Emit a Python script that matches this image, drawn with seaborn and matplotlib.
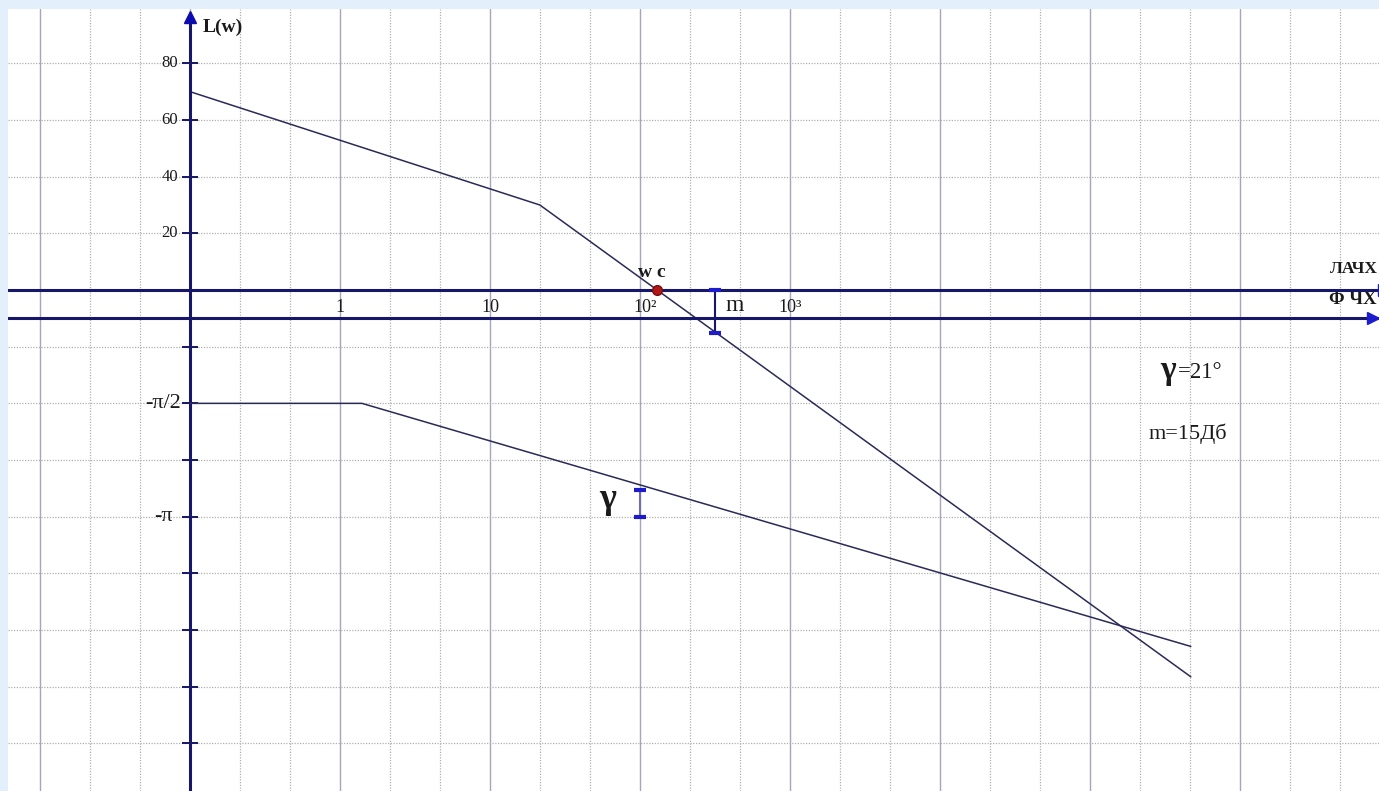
import numpy as np
import pandas as pd
import matplotlib
matplotlib.use("Agg")
import matplotlib.pyplot as plt
import seaborn as sns

# Asymptotic log-magnitude curve (ЛАЧХ): corner frequencies and levels, dB
omega_mag = [0.1, 21.5, 4.7e5]
mag_db = [70, 30, -136.5]

# Asymptotic phase curve (ФЧХ), degrees
omega_phase = [0.1, 1.4, 4.7e5]
phase_deg = [-90, -90, -283]

# Stability margins
gamma_deg = 21          # phase margin
margin_db = 15          # gain margin
omega_gamma = 100
omega_margin = 316

# Axis labelling
db_ticks = [80, 60, 40, 20]
phase_ticks = [-90, -180]
phase_tick_labels = ["-π/2", "-π"]
freq_ticks = [1, 10, 100, 1000]
freq_tick_labels = ["1", "10", "10²", "10³"]

sns.set_theme(style="white")
plt.rcParams["font.family"] = ["Liberation Serif", "DejaVu Serif"]

AXIS = "#16166a"
CURVE = "#2a2a58"
CAP = "#1c1ccc"

fig = plt.figure(figsize=(13.79, 7.91), dpi=100, facecolor="#e3f0fc")
ax = fig.add_axes([8 / 1379, 0, 1371 / 1379, 782 / 791])
ax.set_facecolor("white")
ax.set_xscale("log")
xmin, xmax = 10 ** (-2.2133), 10 ** 6.9267
ymin, ymax = -176.8, 99.17
ax.set_xlim(xmin, xmax)
ax.set_ylim(ymin, ymax)

# grid: decades solid, thirds of a decade dotted, 20 dB rows dotted
ax.set_xticks([10.0 ** k for k in range(-2, 7)])
ax.set_xticks([10.0 ** (k / 3) for k in range(-6, 21) if k % 3], minor=True)
ax.set_yticks(list(range(-160, 100, 20)))
ax.xaxis.grid(True, which="major", color="#a6a6ba", lw=1.0, ls="-")
ax.xaxis.grid(True, which="minor", color="#b0b0b0", lw=0.9, ls=(0, (1, 1.2)))
ax.yaxis.grid(True, which="major", color="#b0b0b0", lw=0.9, ls=(0, (1, 1.2)))
ax.tick_params(which="both", length=0, labelbottom=False, labelleft=False)
for s in ax.spines.values():
    s.set_visible(False)

# phase scale: -π/2 sits two grid rows below 0 dB
ax2 = ax.twinx()
ax2.set_ylim(ymin * 2.25, ymax * 2.25)
ax2.set_xlim(xmin, xmax)
ax2.set_yticks([])
ax2.tick_params(length=0, labelright=False)
for s in ax2.spines.values():
    s.set_visible(False)
ax2.patch.set_visible(False)

mag_df = pd.DataFrame({"omega": omega_mag, "L": mag_db})
phase_df = pd.DataFrame({"omega": omega_phase, "phi": phase_deg})
sns.lineplot(data=mag_df, x="omega", y="L", ax=ax, color=CURVE, lw=1.1,
             estimator=None, sort=False, zorder=3)
sns.lineplot(data=phase_df, x="omega", y="phi", ax=ax2, color=CURVE, lw=1.1,
             estimator=None, sort=False, zorder=3)
ax.set_xlabel("")
ax.set_ylabel("")
ax2.set_xlabel("")
ax2.set_ylabel("")

# coordinate axes
ax.axhline(0, color=AXIS, lw=2.2, zorder=4)
ax.axhline(-10, color=AXIS, lw=2.2, zorder=4)
ax.plot([0.1, 0.1], [ymin, 96], color=AXIS, lw=2.2, zorder=4, solid_capstyle="butt")
ax.plot([0.1], [96.3], marker="^", ms=9, color="#0c0cae", zorder=5)
ax.plot([10 ** 6.963], [0], marker=">", ms=9, color=CAP, zorder=5)
ax.plot([10 ** 6.89], [-10], marker=">", ms=9, color=CAP, zorder=5)

# tick marks on the vertical axis
tick_levels = [v for v in range(-160, 100, 20) if v != 0]
ax.plot([0.1] * len(tick_levels), tick_levels, ls="none", marker="_",
        ms=11, mew=1.4, color=AXIS, zorder=5)

txt = dict(color="#1a1a1a")
for v in db_ticks:
    ax.text(0.0832, v, str(v), ha="right", va="center", fontsize=12, **txt)
for v, lab in zip(phase_ticks, phase_tick_labels):
    ax2.text(0.0871 if v == -90 else 0.077, v, lab, ha="right", va="center",
             fontsize=16, **txt)
for w, lab in zip(freq_ticks, freq_tick_labels):
    ax.text(w * (1.08 if w == 100 else 1.0), -6, lab, ha="center", va="center",
            fontsize=13, **txt)

ax.text(0.122, 92.6, "L(w)", ha="left", va="center", fontsize=14,
        fontweight="bold", **txt)
ax.text(120, 6.2, "w c", ha="center", va="center", fontsize=14,
        fontweight="bold", **txt)
ax.text(430, -5.6, "m", ha="center", va="center", fontsize=17, **txt)
ax.text(10 ** 6.76, 7.3, "ЛАЧХ", ha="center", va="center", fontsize=12.5,
        fontweight="bold", **txt)
ax.text(10 ** 6.755, -3.4, "Φ ЧХ", ha="center", va="center", fontsize=13.5,
        fontweight="bold", **txt)
ax.text(2.95e5, -28.5, "γ", ha="left", va="center", fontsize=24,
        fontweight="bold", **txt)
ax.text(3.86e5, -29, f"={gamma_deg}°", ha="left", va="center", fontsize=16.5, **txt)
ax.text(2.47e5, -50.6, f"m={margin_db}Дб", ha="left", va="center",
        fontsize=16, **txt)
ax.text(61, -74, "γ", ha="center", va="center", fontsize=26,
        fontweight="bold", **txt)

# gain margin bar at the phase-crossover frequency
ax.plot([omega_margin, omega_margin], [0, -margin_db], color=AXIS, lw=1.5, zorder=5)
ax.plot([omega_margin, omega_margin], [0, -margin_db], ls="none", marker="_",
        ms=8, mew=3, color=CAP, zorder=6)

# phase margin bar
ax2.plot([omega_gamma, omega_gamma], [-180, -180 + gamma_deg], color="#7070a8",
         lw=1.5, zorder=5)
ax2.plot([omega_gamma, omega_gamma], [-180, -180 + gamma_deg], ls="none",
         marker="_", ms=8, mew=3, color=CAP, zorder=6)

# crossover frequency where L(w) = 0 dB
log_w = np.log10(omega_mag)
w_c = 10 ** np.interp(0, mag_db[::-1], log_w[::-1])
ax.plot([w_c], [0], marker="o", ms=7, color="#b01818", mec="#7a0c0c", mew=1,
        zorder=7)

fig.savefig("out.png", dpi=100, facecolor=fig.get_facecolor())
